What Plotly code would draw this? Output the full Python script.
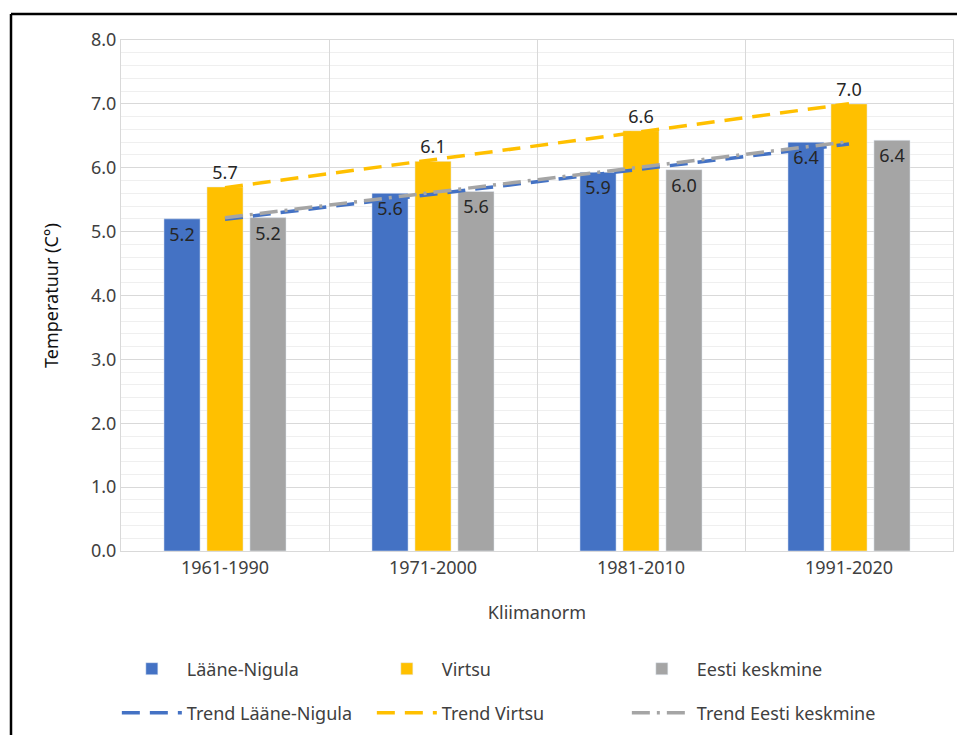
import numpy as np
import plotly.graph_objects as go

categories = ["1961-1990", "1971-2000", "1981-2010", "1991-2020"]
laane_nigula = [5.2, 5.6, 5.93, 6.4]
virtsu = [5.7, 6.1, 6.58, 7.0]
eesti = [5.22, 5.63, 5.97, 6.43]
y_ticks = [0, 1, 2, 3, 4, 5, 6, 7, 8]

BLUE = "#4472C4"
YELLOW = "#FFC000"
GREY = "#A5A5A5"
TXT = "#404040"
LBL = "#262626"
FONT = "Noto Sans"
FS = 18


def trend(vals):
    xs = np.arange(1, len(vals) + 1)
    k, b = np.polyfit(xs, vals, 1)
    return list(k * xs + b)


fig = go.Figure()
fig.add_trace(go.Bar(name="Lääne-Nigula", x=categories, y=laane_nigula, marker_color=BLUE,
                     text=[f"{v:.1f}" for v in laane_nigula], textposition="inside",
                     insidetextanchor="end", textfont=dict(color=LBL, size=FS),
                     legend="legend"))
fig.add_trace(go.Bar(name="Virtsu", x=categories, y=virtsu, marker_color=YELLOW,
                     text=[f"{v:.1f}" for v in virtsu], textposition="outside",
                     textfont=dict(color=LBL, size=FS), cliponaxis=False,
                     legend="legend"))
fig.add_trace(go.Bar(name="Eesti keskmine", x=categories, y=eesti, marker_color=GREY,
                     text=[f"{v:.1f}" for v in eesti], textposition="inside",
                     insidetextanchor="end", textfont=dict(color=LBL, size=FS),
                     legend="legend"))
fig.add_trace(go.Scatter(name="Trend Lääne-Nigula", x=categories, y=trend(laane_nigula),
                         mode="lines", line=dict(color=BLUE, width=3.5, dash="18px,10px"),
                         legend="legend2"))
fig.add_trace(go.Scatter(name="Trend Virtsu", x=categories, y=trend(virtsu),
                         mode="lines", line=dict(color=YELLOW, width=3.5, dash="18px,10px"),
                         legend="legend2"))
fig.add_trace(go.Scatter(name="Trend Eesti keskmine", x=categories, y=trend(eesti),
                         mode="lines", line=dict(color=GREY, width=3.5, dash="18px,7px,3px,7px"),
                         legend="legend2"))

# plot area in figure pixels
L, R, T, B = 113, 945, 32, 543
PW, PH = R - L, B - T

legend_common = dict(orientation="h", x=-0.005, xanchor="left", yanchor="middle",
                     entrywidth=180, entrywidthmode="pixels", itemwidth=60,
                     font=dict(family=FONT, size=FS, color=TXT), traceorder="normal",
                     bgcolor="rgba(0,0,0,0)")

fig.update_layout(
    width=965, height=735,
    margin=dict(l=L, r=965 - R, t=T, b=735 - B, autoexpand=False),
    paper_bgcolor="white", plot_bgcolor="white",
    font=dict(family=FONT, size=FS, color=TXT),
    barmode="group", bargap=0.38, bargroupgap=0.16,
    showlegend=True,
    legend=dict(y=(B - 661) / PH, **legend_common),
    legend2=dict(y=(B - 705) / PH, **legend_common),
    xaxis=dict(
        type="category", tickson="boundaries", showgrid=True, gridcolor="#D9D9D9",
        gridwidth=1, ticks="", showline=True, linecolor="#D9D9D9", mirror=True,
        title=dict(text="Kliimanorm", font=dict(size=FS, color=TXT), standoff=28),
        tickfont=dict(size=FS, color=TXT),
    ),
    yaxis=dict(
        range=[0, 8], tickvals=y_ticks, ticktext=[f"{v:.1f}" for v in y_ticks],
        showgrid=True, gridcolor="#D9D9D9", gridwidth=1,
        minor=dict(dtick=0.2, showgrid=True, gridcolor="#EFEFEF", gridwidth=1),
        showline=True, linecolor="#D9D9D9", mirror=True, zeroline=False,
        ticks="", ticklen=0,
        title=dict(text="Temperatuur (C°)", font=dict(size=FS, color="#111111"), standoff=27),
        tickfont=dict(size=FS, color=TXT),
    ),
)

# outer frame (left & top edges visible in the reference)
fx = (3 - L) / PW
fy = (B - 6) / PH
fig.add_shape(type="line", xref="paper", yref="paper", x0=fx, x1=1.2, y0=fy, y1=fy,
              line=dict(color="black", width=2.5))
fig.add_shape(type="line", xref="paper", yref="paper", x0=fx, x1=fx, y0=fy, y1=-0.6,
              line=dict(color="black", width=2.5))

fig.write_html("out.html")
